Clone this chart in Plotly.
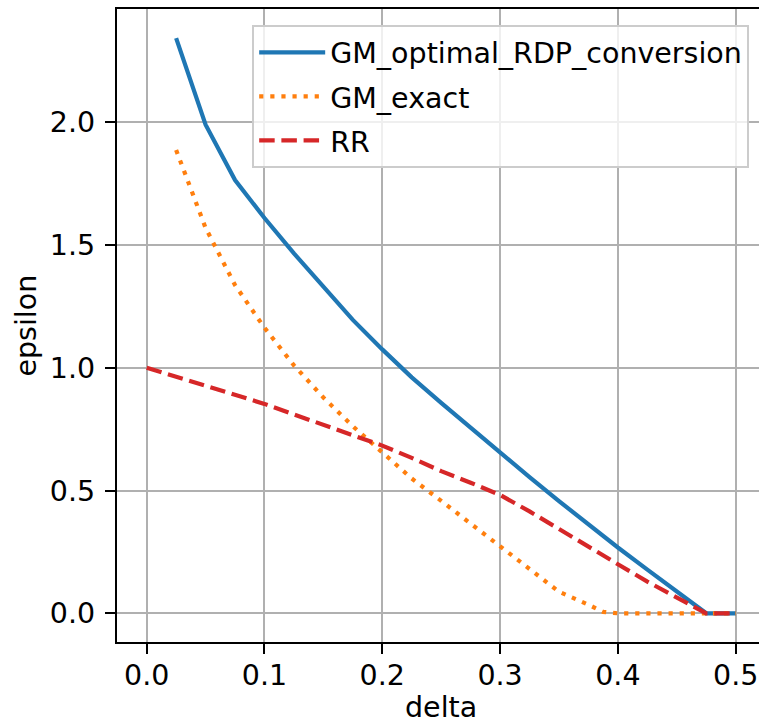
import plotly.graph_objects as go

# ---- data ----
delta_gm = [0.025, 0.05, 0.075, 0.1, 0.125, 0.15, 0.175, 0.2, 0.225, 0.25,
            0.275, 0.3, 0.325, 0.35, 0.375, 0.4, 0.425, 0.45, 0.475, 0.5]
eps_gm_rdp = [2.343, 1.99, 1.765, 1.61, 1.466, 1.33, 1.195, 1.075, 0.961, 0.857,
              0.756, 0.652, 0.555, 0.457, 0.361, 0.268, 0.178, 0.088, 0.0, 0.0]

delta_exact = [0.025, 0.05, 0.075, 0.1, 0.125, 0.15, 0.175, 0.2, 0.225, 0.25,
               0.275, 0.3, 0.325, 0.35, 0.375, 0.3875, 0.4, 0.425, 0.45, 0.475, 0.5]
eps_exact = [1.887, 1.57, 1.337, 1.163, 1.01, 0.879, 0.762, 0.655, 0.549, 0.458,
             0.366, 0.275, 0.18, 0.088, 0.035, 0.006, 0.0, 0.0, 0.0, 0.0, 0.0]

delta_rr = [0.0, 0.025, 0.05, 0.075, 0.1, 0.125, 0.15, 0.175, 0.2, 0.225, 0.25,
            0.275, 0.3, 0.325, 0.35, 0.375, 0.4, 0.425, 0.45, 0.475, 0.5]
eps_rr = [1.0, 0.963, 0.925, 0.89, 0.853, 0.81, 0.767, 0.725, 0.683, 0.633, 0.579,
          0.532, 0.482, 0.415, 0.342, 0.272, 0.2, 0.129, 0.065, 0.0, 0.0]

series_names = ["GM_optimal_RDP_conversion", "GM_exact", "RR"]
x_ticks = [0.0, 0.1, 0.2, 0.3, 0.4, 0.5]
y_ticks = [0.0, 0.5, 1.0, 1.5, 2.0]

FONT = "DejaVu Sans"
FS = 28.5
LW = 4.2

fig = go.Figure()
fig.add_trace(go.Scatter(x=delta_gm, y=eps_gm_rdp, mode="lines", name=series_names[0],
                         legendgroup="a",
                         line=dict(color="#1f77b4", width=LW)))
fig.add_trace(go.Scatter(x=delta_exact, y=eps_exact, mode="lines", name=series_names[1],
                         legendgroup="b",
                         line=dict(color="#ff7f0e", width=LW, dash="4.2px,6.9px")))
fig.add_trace(go.Scatter(x=delta_rr, y=eps_rr, mode="lines", name=series_names[2],
                         legendgroup="c",
                         line=dict(color="#d62728", width=LW, dash="15.5px,6.7px")))

axis_common = dict(
    showgrid=True, gridcolor="#b0b0b0", gridwidth=2.2,
    zeroline=False, showline=True, linecolor="black", linewidth=2.2,
    ticks="outside", ticklen=10, tickwidth=2.2, tickcolor="black",
    tickfont=dict(family=FONT, size=FS, color="black"),
    tickformat=".1f",
)

fig.update_layout(
    width=759, height=727,
    margin=dict(l=117, r=0, t=9, b=85, pad=0),
    paper_bgcolor="white", plot_bgcolor="white",
    font=dict(family=FONT, size=FS, color="black"),
    showlegend=True,
    xaxis=dict(range=[-0.0252, 0.5198], tickvals=x_ticks, mirror=True,
               ticklabelstandoff=-3, **axis_common),
    yaxis=dict(range=[-0.1169, 2.4615], tickvals=y_ticks, mirror=False,
               ticklabelstandoff=4, **axis_common),
    legend=dict(x=0.9847, y=0.9742, xanchor="right", yanchor="top",
                bgcolor="rgba(255,255,255,0.8)", bordercolor="#cccccc", borderwidth=2,
                font=dict(family=FONT, size=FS, color="black"),
                tracegroupgap=4, itemwidth=66),
    annotations=[
        dict(text="delta", xref="paper", yref="paper", x=0.5047, y=-0.1322,
             xanchor="center", yanchor="bottom", showarrow=False,
             font=dict(family=FONT, size=FS, color="black")),
        dict(text="epsilon", xref="paper", yref="paper", x=-0.1417, y=0.5,
             xanchor="center", yanchor="middle", textangle=-90, showarrow=False,
             font=dict(family=FONT, size=FS, color="black")),
    ],
)

fig.write_html("out.html", config={"displayModeBar": False},
               post_script="document.body.style.margin='0px';document.body.style.padding='0px';")
